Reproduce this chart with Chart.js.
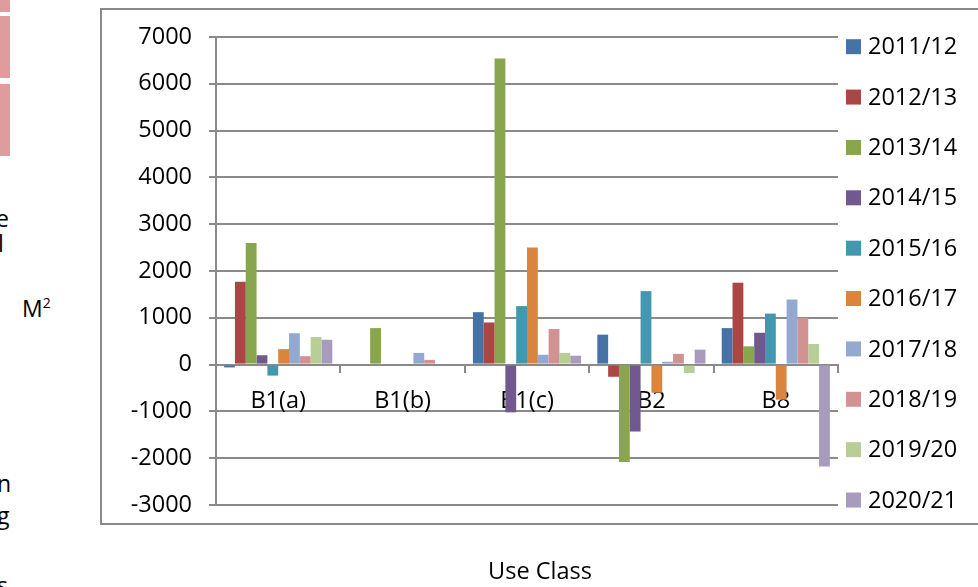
<!DOCTYPE html>
<html>
<head>
<meta charset="utf-8">
<title>Use Class floorspace</title>
<script src="https://cdn.jsdelivr.net/npm/chart.js@4.4.1/dist/chart.umd.min.js"></script>
<style>
  html, body { margin: 0; padding: 0; background: #ffffff; }
  body { width: 978px; height: 587px; position: relative; overflow: hidden; font-family: 'Open Sans', sans-serif; color: #000; }
  #frame { position: absolute; left: 100px; top: 8px; width: 900px; height: 517px; border: 2px solid #8a8a8a; box-sizing: border-box; }
  #chart { position: absolute; left: 0; top: 0; }
  .tab { position: absolute; left: 0; width: 10px; background: #e09c9c; }
  .frag { position: absolute; font-size: 23px; line-height: 1; }
  #unit { position: absolute; left: 22px; top: 296px; font-size: 23px; line-height: 1; }
  #unit sup { font-size: 14px; vertical-align: 9px; }
  #xtitle { position: absolute; left: 0; width: 1080px; top: 559px; text-align: center; font-size: 23.5px; line-height: 1; }
</style>
</head>
<body>
<div class="tab" style="top:0;height:12px"></div>
<div class="tab" style="top:16px;height:62px"></div>
<div class="tab" style="top:84px;height:72px"></div>
<div class="frag" style="left:-4px;top:207px">e</div>
<div class="frag" style="left:-2px;top:232px">l</div>
<div class="frag" style="left:-3px;top:472px">n</div>
<div class="frag" style="left:-3px;top:504px">g</div>
<div class="frag" style="left:-3px;top:574px">s</div>
<div id="unit">M<sup>2</sup></div>
<div id="frame"></div>
<canvas id="chart" width="978" height="587"></canvas>
<div id="xtitle">Use Class</div>
<script>
// Net floorspace change by use class, one series per monitoring year
const categories = ['B1(a)', 'B1(b)', 'B1(c)', 'B2', 'B8'];
const years = ['2011/12', '2012/13', '2013/14', '2014/15', '2015/16',
               '2016/17', '2017/18', '2018/19', '2019/20', '2020/21'];

const y2011_12 = [-60, 0, 1120, 640, 780];
const y2012_13 = [1770, 0, 900, -260, 1750];
const y2013_14 = [2600, 780, 6540, -2080, 390];
const y2014_15 = [200, 0, -1020, -1430, 680];
const y2015_16 = [-235, 0, 1250, 1570, 1090];
const y2016_17 = [330, 0, 2500, -600, -750];
const y2017_18 = [670, 250, 210, 60, 1390];
const y2018_19 = [180, 100, 760, 230, 1000];
const y2019_20 = [590, 0, 250, -180, 440];
const y2020_21 = [530, 0, 190, 320, -2180];

const yTicks = [-3000, -2000, -1000, 0, 1000, 2000, 3000, 4000, 5000, 6000, 7000];

const seriesValues = [y2011_12, y2012_13, y2013_14, y2014_15, y2015_16,
                      y2016_17, y2017_18, y2018_19, y2019_20, y2020_21];
const seriesColours = ['#4572a7', '#aa4643', '#89a54e', '#71588f', '#4198af',
                       '#db843d', '#93a9cf', '#d19392', '#b9cd96', '#a99bbd'];

const FONT = { family: "'Open Sans', sans-serif", size: 23.5 };
const AXIS_GREY = '#8a8a8a';

// Legend drawn beside the plot: coloured square then the year label
const sideLegend = {
  id: 'sideLegend',
  afterDraw(chart) {
    const { ctx, chartArea } = chart;
    const x = chartArea.right + 8;
    const firstY = chartArea.top + 9.7;
    const step = 50.37;
    ctx.save();
    ctx.font = `${FONT.size}px ${FONT.family}`;
    ctx.textBaseline = 'middle';
    ctx.textAlign = 'left';
    chart.data.datasets.forEach((ds, i) => {
      const cy = firstY + i * step;
      ctx.fillStyle = ds.backgroundColor;
      ctx.fillRect(x, cy - 7.5, 15, 15);
      ctx.fillStyle = '#000';
      ctx.fillText(ds.label, x + 22, cy + 1);
    });
    ctx.restore();
  }
};

new Chart(document.getElementById('chart'), {
  type: 'bar',
  data: {
    labels: categories,
    datasets: years.map((label, i) => ({
      label,
      data: seriesValues[i],
      backgroundColor: seriesColours[i],
      borderWidth: 0,
      categoryPercentage: 10 / 11.5,
      barPercentage: 1
    }))
  },
  options: {
    responsive: false,
    animation: false,
    devicePixelRatio: 1,
    layout: { padding: { left: 101, top: 37, right: 140, bottom: 82 } },
    scales: {
      x: {
        position: { y: 0 },
        grid: { drawOnChartArea: false, drawTicks: true, tickLength: 7, color: AXIS_GREY, lineWidth: 2 },
        border: { color: AXIS_GREY, width: 2 },
        ticks: { font: FONT, color: '#000', padding: 16, maxRotation: 0 }
      },
      y: {
        min: yTicks[0],
        max: yTicks[yTicks.length - 1],
        afterBuildTicks(scale) { scale.ticks = yTicks.map(v => ({ value: v })); },
        afterFit(scale) { scale.width = 115; },
        grid: { color: AXIS_GREY, lineWidth: 2, tickLength: 7 },
        border: { color: AXIS_GREY, width: 2 },
        ticks: { font: FONT, color: '#000', padding: 17, callback: v => String(v) }
      }
    },
    plugins: {
      legend: { display: false },
      tooltip: { enabled: false }
    }
  },
  plugins: [sideLegend]
});
</script>
</body>
</html>
